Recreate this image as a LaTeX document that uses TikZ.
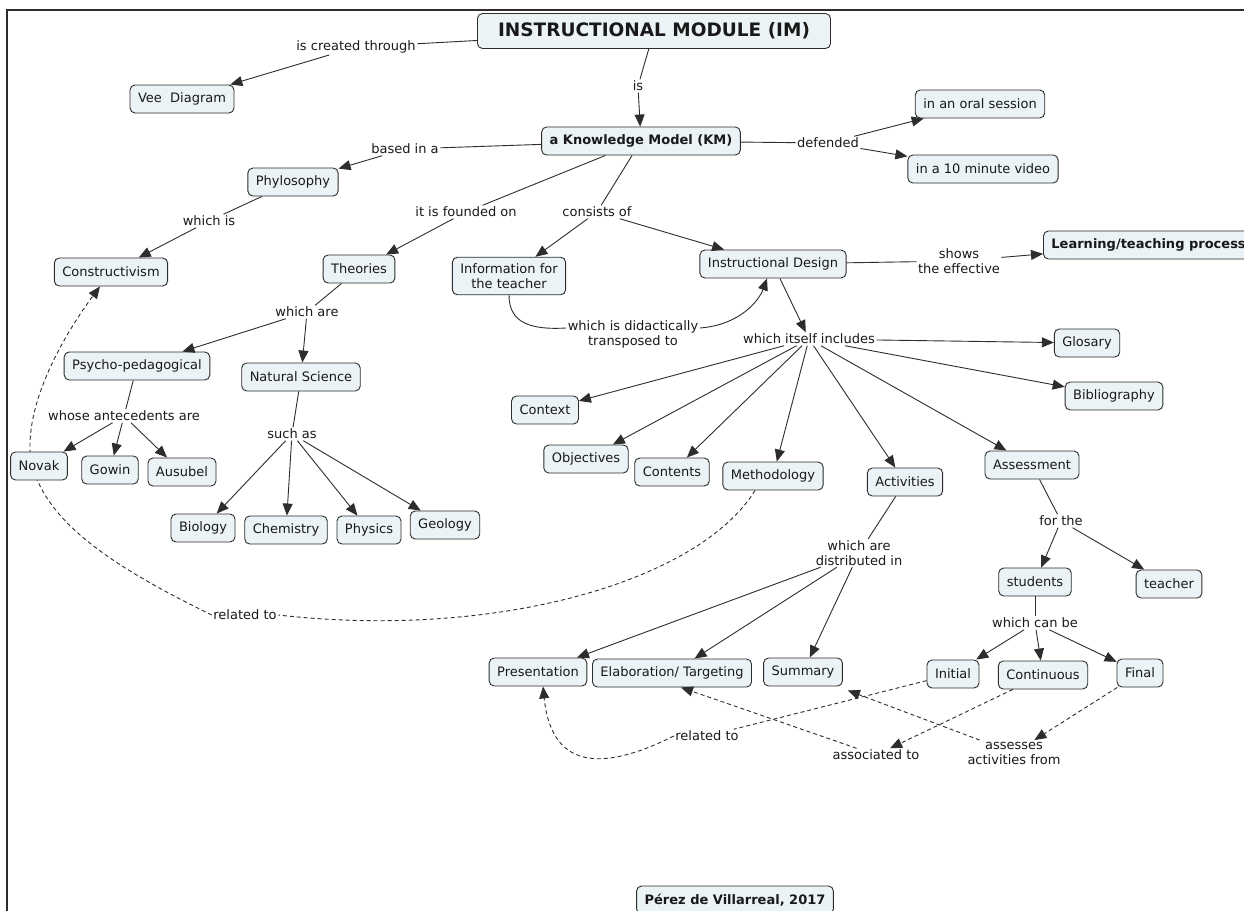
\documentclass[tikz,border=0pt]{standalone}
\usepackage{fontspec}
\setmainfont{DejaVu Sans}
\usetikzlibrary{arrows.meta,calc,backgrounds}
\definecolor{cfill}{RGB}{235,243,246}
\definecolor{cline}{RGB}{45,45,45}
\begin{document}
\begin{tikzpicture}[x=1pt,y=-1pt,
 concept/.style={draw=cline, line width=0.9pt, rounded corners=5pt, fill=cfill, font=\fontsize{13}{15.5}\selectfont, inner xsep=8pt, inner ysep=6pt, minimum height=28pt, align=center, text=black!90},
 bconcept/.style={concept, font=\fontsize{13}{15.5}\selectfont\bfseries},
 lbl/.style={font=\fontsize{13}{15}\selectfont, inner sep=1.5pt, align=center, text=black!90},
 ln/.style={draw=cline, line width=0.9pt},
 arr/.style={ln, -{Triangle[length=12pt,width=10pt]}},
 dsh/.style={ln, dash pattern=on 4pt off 3pt},
 darr/.style={dsh, -{Triangle[length=12pt,width=10pt]}}]
\useasboundingbox (0,0) rectangle (1244,910);
\draw[cline, line width=1.5pt] (7,915) -- (7,10) -- (1250,10);
% concepts
\node[concept, font=\fontsize{18.5}{22}\selectfont\bfseries, minimum height=35pt, minimum width=353pt] (im) at (654,31) {INSTRUCTIONAL MODULE (IM)};
\node[concept] (vee) at (182,99) {Vee\ \ Diagram};
\node[bconcept] (km) at (641,141) {a Knowledge Model (KM)};
\node[concept] (oral) at (980,104) {in an oral session};
\node[concept] (video) at (983,169) {in a 10 minute video};
\node[concept] (phil) at (293,182) {Phylosophy};
\node[concept] (cons) at (111,272) {Constructivism};
\node[concept] (theo) at (359,269) {Theories};
\node[concept] (info) at (509,276) {Information for\\the teacher};
\node[concept] (id) at (773,264) {Instructional Design};
\node[bconcept, anchor=west] (ltp) at (1043,245) {Learning/teaching process};
\node[concept] (psy) at (137,366) {Psycho-pedagogical};
\node[concept] (nat) at (301,377) {Natural Science};
\node[concept] (novak) at (39,466) {Novak};
\node[concept] (gowin) at (110,470) {Gowin};
\node[concept] (aus) at (182,472) {Ausubel};
\node[concept] (bio) at (203,528) {Biology};
\node[concept] (chem) at (286,530) {Chemistry};
\node[concept] (phys) at (369,530) {Physics};
\node[concept] (geo) at (445,525) {Geology};
\node[concept] (ctx) at (545,410) {Context};
\node[concept] (obj) at (586,459) {Objectives};
\node[concept] (cont) at (672,472) {Contents};
\node[concept] (meth) at (773,476) {Methodology};
\node[concept] (act) at (905,482) {Activities};
\node[concept] (ass) at (1032,465) {Assessment};
\node[concept] (glo) at (1087,343) {Glosary};
\node[concept] (bib) at (1114,396) {Bibliography};
\node[concept] (stu) at (1035,582) {students};
\node[concept] (tea) at (1169,584) {teacher};
\node[concept] (pres) at (538,672) {Presentation};
\node[concept] (elab) at (672,673) {Elaboration/ Targeting};
\node[concept] (summ) at (803,672) {Summary};
\node[concept] (ini) at (953,674) {Initial};
\node[concept] (cnt) at (1043,675) {Continuous};
\node[concept] (fin) at (1140,673) {Final};
\node[bconcept] (perez) at (735,900) {Pérez de Villarreal, 2017};
% linking phrases
\node[lbl] (l1) at (356,47) {is created through};
\node[lbl] (l2) at (638,86) {is};
\node[lbl] (l3) at (405,149) {based in a};
\node[lbl] (l4) at (828,143) {defended};
\node[lbl] (l5) at (209,221) {which is};
\node[lbl] (l6) at (466,212) {it is founded on};
\node[lbl] (l7) at (597,212) {consists of};
\node[lbl] (l8) at (959,261) {shows\\the effective};
\node[lbl] (l9) at (307,312) {which are};
\node[lbl] (l10) at (633,334) {which is didactically\\transposed to};
\node[lbl] (l11) at (809,339) {which itself includes};
\node[lbl] (l12) at (124,416) {whose antecedents are};
\node[lbl] (l13) at (292,434) {such as};
\node[lbl] (l14) at (1061,521) {for the};
\node[lbl] (l15) at (859,553) {which are\\distributed in};
\node[lbl] (l16) at (1035,623) {which can be};
\node[lbl] (l17) at (245,615) {related to};
\node[lbl] (l18) at (707,736) {related to};
\node[lbl] (l19) at (876,755) {associated to};
\node[lbl] (l20) at (1014,753) {assesses\\activities from};
% connectors
\draw[ln] (im) -- (l1); \draw[arr] (l1) -- (vee);
\draw[ln] (im) -- (l2); \draw[arr] (l2) -- (km);
\draw[ln] (km) -- (l3); \draw[arr] (l3) -- (phil);
\draw[ln] (km) -- (l4); \draw[arr] (l4) -- (oral); \draw[arr] (l4) -- (video);
\draw[ln] (phil) -- (l5); \draw[arr] (l5) -- (cons);
\draw[ln] (km) -- (l6); \draw[arr] (l6) -- (theo);
\draw[ln] (km) -- (l7); \draw[arr] (l7) -- (info); \draw[arr] (l7) -- (id);
\draw[ln] (id) -- (l8); \draw[arr] (l8) -- (ltp);
\draw[ln] (theo) -- (l9); \draw[arr] (l9) -- (psy); \draw[arr] (l9) -- (nat);
\draw[ln] (info.south) .. controls +(0,28) and +(-35,2) .. ($(l10.west)+(0,-6)$);
\draw[arr] ($(l10.east)+(0,-6)$) .. controls +(40,-3) and +(-8,22) .. ([xshift=-6pt]id.south);
\draw[arr] (id) -- (l11);
\foreach \t in {ctx,obj,cont,meth,act,ass,glo,bib} {\draw[arr] (l11) -- (\t);}
\draw[ln] (psy) -- (l12);
\foreach \t in {novak,gowin,aus} {\draw[arr] (l12) -- (\t);}
\draw[ln] (nat) -- (l13);
\foreach \t in {bio,chem,phys,geo} {\draw[arr] (l13) -- (\t);}
\draw[ln] (ass) -- (l14);
\foreach \t in {stu,tea} {\draw[arr] (l14) -- (\t);}
\draw[ln] (act) -- (l15);
\foreach \t in {pres,elab,summ} {\draw[arr] (l15) -- (\t);}
\draw[ln] (stu) -- (l16);
\foreach \t in {ini,cnt,fin} {\draw[arr] (l16) -- (\t);}
% dashed links
\begin{scope}[on background layer]
\fill[white] (0,0) rectangle (1244,910);
\draw[darr] (l17.west) .. controls (120,570) and (35,520) .. (30,450) .. controls (28,390) and (75,320) .. ([xshift=-11pt]cons.south);
\end{scope}
\draw[dsh] ([xshift=-18pt]meth.south) .. controls (700,580) and (500,640) .. (l17.east);
\draw[dsh] (ini) -- (l18);
\draw[darr] (l18.west) .. controls (610,768) and (552,775) .. ([xshift=5pt]pres.south);
\draw[darr] (cnt) -- (l19);
\draw[darr] (l19) -- ([xshift=9pt]elab.south);
\draw[darr] (fin) -- (l20);
\draw[darr] (l20) -- ($(summ.south east)+(5,4)$);
\end{tikzpicture}
\end{document}
